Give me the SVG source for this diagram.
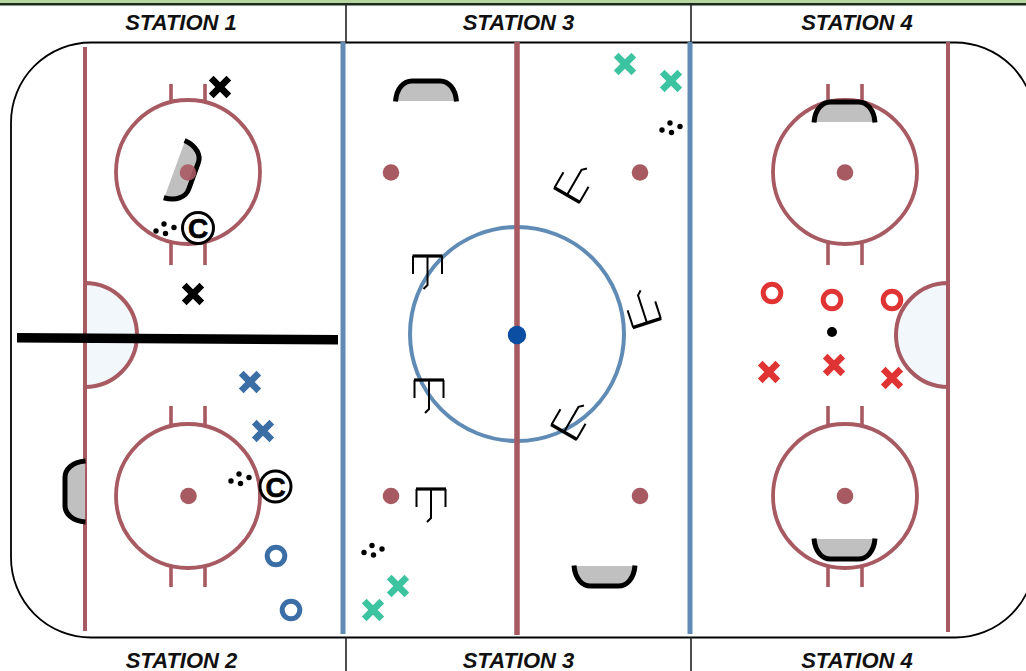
<svg xmlns="http://www.w3.org/2000/svg" xmlns:xlink="http://www.w3.org/1999/xlink" width="1026" height="671" viewBox="0 0 1026 671">
<style>
.red{fill:none;stroke:#a85a62}
.faceoff{fill:none;stroke:#a85a62;stroke-width:3.8}
.hash{stroke:#a85a62;stroke-width:3.6}
.spot{fill:#a85a62}
.blue{stroke:#5f8bb5;stroke-width:5}
.crease{fill:#f2f7fc;stroke:#a85a62;stroke-width:4}
.net{fill:#c0c0c0;stroke:none}
.netline{fill:none;stroke:#000;stroke-width:5}
.lbl{font:italic bold 22px "Liberation Sans",Arial,sans-serif;text-anchor:middle;fill:#111}
.sep{stroke:#222;stroke-width:1.6}
.xm{fill:none;stroke-width:6.6}
.om{fill:none;stroke-width:5}
.coach{font:bold 28px "Liberation Sans",Arial,sans-serif;text-anchor:middle;fill:#000;stroke:#000;stroke-width:.6}
</style>
<defs>
<g id="mark-x"><path d="M-8.800-8.800L8.800 8.800M8.800-8.800L-8.800 8.800"/></g>
<g id="pucks" fill="#000"><circle cx="0" cy="7" r="2.700"/><circle cx="8" cy="0" r="2.700"/><circle cx="9.500" cy="9.500" r="2.700"/><circle cx="18" cy="3.500" r="2.700"/></g>
<g id="skater" fill="none" stroke="#000"><path d="M-15 0H15" stroke-width="3.200"/><path d="M-14.500 0V18M14.500 0V18" stroke-width="2"/><path d="M0 0V29L-4 33" stroke-width="2"/></g>
<g id="net"><path class="net" d="M-32 11C-30-3-22-11-14-11H14C22-11 30-3 32 11Z"/><path class="netline" d="M-30.500 11.500C-29.500-2-22-9-14-9H14C22-9 29.500-2 30.500 11.500"/></g>
<g id="hashes-up"><path class="hash" d="M-17-88V-71M17-88V-71M-17 71V93M17 71V93"/></g>
<g id="hashes-low"><path class="hash" d="M-17-90V-71M17-90V-71M-17 69V91M17 69V91"/></g>
</defs>
<rect width="1026" height="671" fill="#fff"/>
<g id="frame">
<rect x="0" y="0" width="1026" height="3" fill="#b5d6a0"/>
<rect x="0" y="3" width="1026" height="2.500" fill="#1c2a1c"/>
<rect x="11" y="42.500" width="1024" height="595" rx="80" ry="80" fill="#fff" stroke="#000" stroke-width="1.800"/>
<path class="sep" d="M346 5V42M691 5V42M346 637V671M691 637V671"/>
</g>
<g id="rink-lines">
<path class="crease" d="M85 283A52 52 0 0 1 85 387Z"/>
<path class="crease" d="M948 283A52 52 0 0 0 948 387Z"/>
<path class="red" stroke-width="4" d="M85 47V631M948 42V632"/>
<path class="blue" d="M343 42V634M690 42V634" stroke-width="5"/>
<circle cx="517" cy="334" r="107" fill="none" stroke="#5f8bb5" stroke-width="4"/>
<path class="red" stroke-width="5.500" d="M517 42V635"/>
<circle cx="517" cy="335" r="9.200" fill="#0b4ea2"/>
</g>
<g id="faceoff-circles">
<g transform="translate(188 172)"><circle class="faceoff" r="72"/><use xlink:href="#hashes-up"/></g>
<g transform="translate(188 496)"><circle class="faceoff" r="72"/><use xlink:href="#hashes-low"/></g>
<g transform="translate(845 172)"><circle class="faceoff" r="72"/><use xlink:href="#hashes-up"/></g>
<g transform="translate(845 496)"><circle class="faceoff" r="72"/><use xlink:href="#hashes-low"/></g>
<circle class="spot" cx="188.500" cy="496" r="8.300"/>
<circle class="spot" cx="845" cy="172.500" r="8.300"/>
<circle class="spot" cx="845" cy="496" r="8.300"/>
<circle class="spot" cx="391" cy="172.500" r="8.300"/>
<circle class="spot" cx="640" cy="172.500" r="8.300"/>
<circle class="spot" cx="391" cy="496" r="8.300"/>
<circle class="spot" cx="640" cy="496" r="8.300"/>
</g>
<g id="nets">
<use xlink:href="#net" transform="translate(426 90)"/>
<use xlink:href="#net" transform="translate(604.500 577) scale(1 -1)"/>
<use xlink:href="#net" transform="translate(844.500 111)"/>
<use xlink:href="#net" transform="translate(844.500 550) scale(1 -1)"/>
<use xlink:href="#net" transform="translate(74 491.500) rotate(-90)"/>
<use xlink:href="#net" transform="translate(185 173) rotate(110)"/>
<circle cx="188" cy="172.500" r="8.300" fill="#a85a62" fill-opacity=".9"/>
</g>
<g id="bar"><path d="M17 333L338 335V344.500L17 342.500Z" fill="#000"/></g>
<g id="players-station1" stroke="#000">
<use xlink:href="#mark-x" class="xm" transform="translate(220 87)"/>
<use xlink:href="#mark-x" class="xm" transform="translate(193 294)"/>
<use xlink:href="#pucks" transform="translate(156 224)" stroke="none"/>
<circle cx="198" cy="228" r="15.500" fill="#fff" stroke-width="3"/>
<text class="coach" x="198" y="238">C</text>
</g>
<g id="players-station2">
<use xlink:href="#mark-x" class="xm" stroke="#3a6ea5" transform="translate(250 382)"/>
<use xlink:href="#mark-x" class="xm" stroke="#3a6ea5" transform="translate(263 431)"/>
<circle class="om" stroke="#3a6ea5" cx="276" cy="556" r="8.800"/>
<circle class="om" stroke="#3a6ea5" cx="291" cy="610" r="8.800"/>
<use xlink:href="#pucks" transform="translate(231 474)"/>
<circle cx="275.500" cy="486.500" r="15.500" fill="#fff" stroke="#000" stroke-width="3"/>
<text class="coach" x="275.500" y="496.500">C</text>
</g>
<g id="players-station3">
<use xlink:href="#mark-x" class="xm" stroke="#3cc3a0" transform="translate(625 64)"/>
<use xlink:href="#mark-x" class="xm" stroke="#3cc3a0" transform="translate(671 81)"/>
<use xlink:href="#mark-x" class="xm" stroke="#3cc3a0" transform="translate(398 586)"/>
<use xlink:href="#mark-x" class="xm" stroke="#3cc3a0" transform="translate(373 610)"/>
<use xlink:href="#pucks" transform="translate(662 123)"/>
<use xlink:href="#pucks" transform="translate(364 545.500)"/>
<use xlink:href="#skater" transform="translate(427.500 256)"/>
<use xlink:href="#skater" transform="translate(429 380)"/>
<use xlink:href="#skater" transform="translate(431 489)"/>
<use xlink:href="#skater" transform="translate(567 195) rotate(210)"/>
<use xlink:href="#skater" transform="translate(647 323) rotate(162)"/>
<use xlink:href="#skater" transform="translate(564 432) rotate(210)"/>
</g>
<g id="players-station4">
<circle class="om" stroke="#e03434" cx="772" cy="293" r="8.800"/>
<circle class="om" stroke="#e03434" cx="832" cy="300" r="8.800"/>
<circle class="om" stroke="#e03434" cx="892" cy="300" r="8.800"/>
<circle cx="832" cy="332" r="5" fill="#000"/>
<use xlink:href="#mark-x" class="xm" stroke="#e03434" transform="translate(769 372)"/>
<use xlink:href="#mark-x" class="xm" stroke="#e03434" transform="translate(834 365)"/>
<use xlink:href="#mark-x" class="xm" stroke="#e03434" transform="translate(892 378)"/>
</g>
<g id="labels">
<text class="lbl" x="181" y="30">STATION 1</text>
<text class="lbl" x="518.500" y="30">STATION 3</text>
<text class="lbl" x="857" y="30">STATION 4</text>
<text class="lbl" x="181.500" y="668">STATION 2</text>
<text class="lbl" x="518.500" y="668">STATION 3</text>
<text class="lbl" x="857" y="668">STATION 4</text>
</g>
</svg>
